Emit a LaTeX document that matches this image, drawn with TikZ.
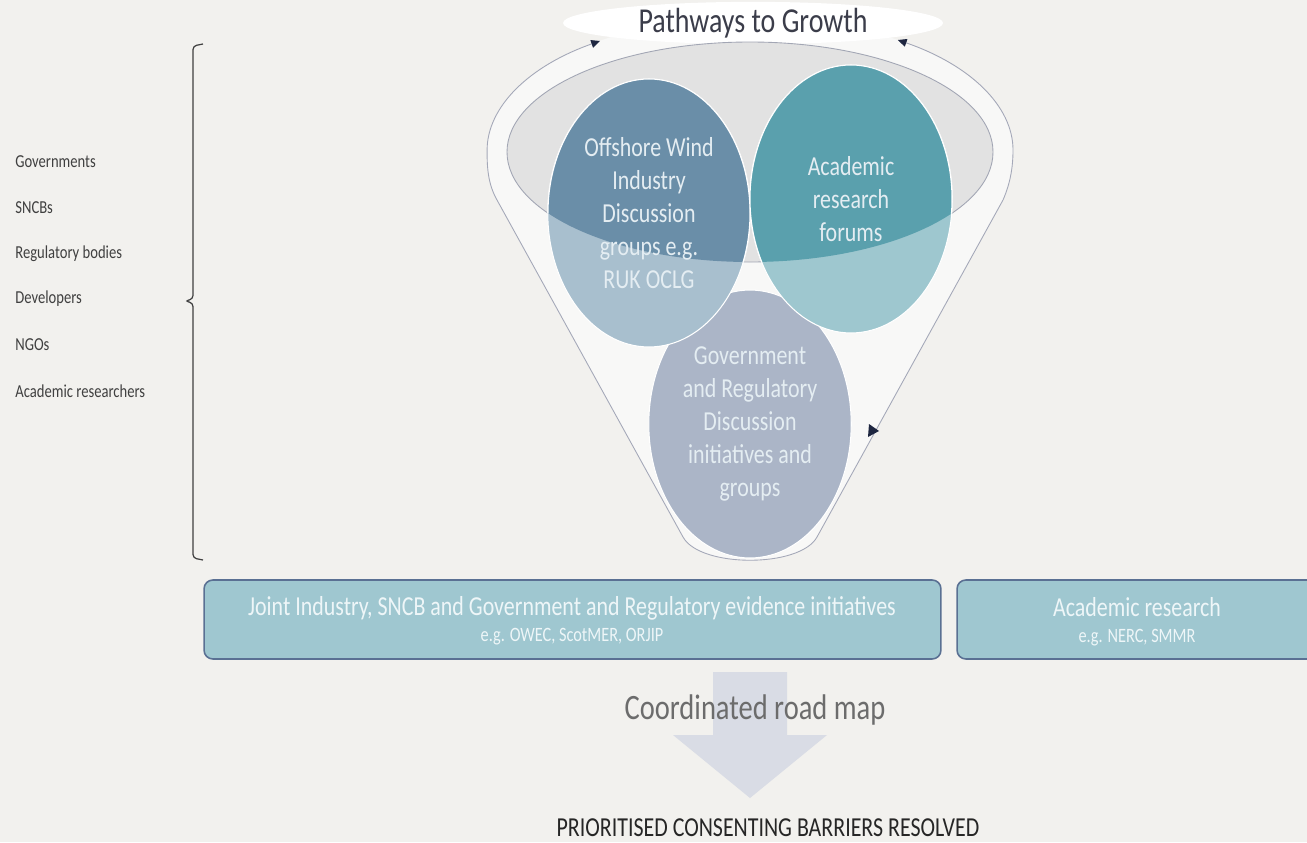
\documentclass[tikz,border=0pt]{standalone}
\usepackage{fontspec}
\setmainfont{Carlito}[FakeStretch=0.8]
\usetikzlibrary{shapes.geometric,arrows.meta,positioning}

\definecolor{paper}{HTML}{F2F1EE}
\definecolor{funnelfill}{HTML}{F8F8F7}
\definecolor{funneledge}{HTML}{A4A8B8}
\definecolor{rimgray}{HTML}{E2E2E2}
\definecolor{rimedge}{HTML}{A2A6B4}
\definecolor{tipdark}{HTML}{1E2640}
\definecolor{titletxt}{HTML}{3B3D4A}
\definecolor{indlight}{HTML}{A8BFCE}
\definecolor{inddark}{HTML}{6A8EA8}
\definecolor{acadlight}{HTML}{9EC7CF}
\definecolor{acaddark}{HTML}{5AA0AD}
\definecolor{govlight}{HTML}{ABB5C7}
\definecolor{bubbletxt}{HTML}{E4EDF2}
\definecolor{boxfill}{HTML}{9FC7D0}
\definecolor{boxedge}{HTML}{5A7093}
\definecolor{boxtxt}{HTML}{EEF6F8}
\definecolor{listgray}{HTML}{404040}
\definecolor{roadgray}{HTML}{6C6C6C}
\definecolor{roadarrow}{HTML}{D9DCE5}

\tikzset{
    member/.style={
    anchor=west,inner sep=0pt,text=listgray,font=\fontsize{10.4}{12}\selectfont
    },
    bubble/.style={
    ellipse,draw=white,line width=0.6pt,minimum width=4.05cm,minimum height=5.36cm,inner sep=0pt
    },
    bubbletext/.style={
    align=center,inner sep=0pt,text=bubbletxt,font=\fontsize{15.6}{18.8}\selectfont
    },
    evidence/.style={
    rectangle,rounded corners=5pt,draw=boxedge,line width=0.9pt,fill=boxfill,minimum height=1.58cm,inner sep=0pt
    },
    boxhead/.style={
    inner sep=0pt,text=boxtxt,font=\fontsize{15.6}{18}\selectfont
    },
    boxsub/.style={
    inner sep=0pt,text=boxtxt,font=\fontsize{11.6}{13}\selectfont
    },
}

\begin{document}
\begin{tikzpicture}[x=0.02cm, y=-0.02cm]
  \clip (0,0) rectangle (1307,842);
  \fill[paper] (0,0) rectangle (1307,842);

  % stakeholders and bracket
  \node[member] (gov) at (15,162) {Governments};
  \node[member] (sncb) at (15,208) {SNCBs};
  \node[member] (regbod) at (15,254) {Regulatory bodies};
  \node[member] (dev) at (15,299) {Developers};
  \node[member] (ngo) at (15,345) {NGOs};
  \node[member] (acad) at (15,391) {Academic researchers};
  \draw[listgray, line width=0.7pt, rounded corners=2pt]
    (203,44) -- (193,46) -- (193,299) -- (185,301) -- (193,303) -- (193,558) -- (203,560);

  % funnel body
  \fill[funnelfill] (487,150) arc[start angle=180, end angle=360, x radius=263, y radius=133]
    .. controls (1013,168) and (1010,184) .. (1003,200) -- (817,537)
    .. controls (800,568) and (700,568) .. (683,537) -- (497,200)
    .. controls (488,184) and (487,168) .. (487,150) -- cycle;
  \draw[funneledge, line width=0.5pt,
        {Triangle[length=5pt,width=4.5pt,color=tipdark]}-{Triangle[length=5pt,width=4.5pt,color=tipdark]}]
    (600,41) arc[start angle=235.2, end angle=180, x radius=263, y radius=133]
    .. controls (487,168) and (488,184) .. (497,200) -- (683,537)
    .. controls (700,568) and (800,568) .. (817,537) -- (1003,200)
    .. controls (1010,184) and (1013,168) .. (1013,150)
    arc[start angle=0, end angle=-55.8, x radius=263, y radius=133];
  \fill[tipdark] (869,424) -- (879,431) -- (868,437) -- cycle;

  % title on the rim
  \node[ellipse, fill=white, minimum width=7.6cm, minimum height=0.8cm, inner sep=0pt,
        text=titletxt, font=\fontsize{19.9}{22}\selectfont] (pathways) at (753,23) {Pathways to Growth};

  % rim
  \filldraw[fill=rimgray, draw=rimedge, line width=0.5pt] (750,152) ellipse[x radius=243, y radius=110];

  % discussion groups
  \node[bubble, fill=govlight] (govcirc) at (750,424) {};
  \node[bubble, fill=indlight] (indcirc) at (649,213) {};
  \node[bubble, fill=acadlight] (acadcirc) at (851,199) {};
  \begin{scope}
    \clip (750,152) ellipse[x radius=243, y radius=110];
    \filldraw[fill=inddark, draw=white, line width=0.6pt] (indcirc.center) ellipse[x radius=101, y radius=134];
    \filldraw[fill=acaddark, draw=white, line width=0.6pt] (acadcirc.center) ellipse[x radius=101, y radius=134];
  \end{scope}
  \node[bubbletext] (indtext) at (indcirc) {Offshore Wind\\Industry\\Discussion\\groups e.g.\\RUK OCLG};
  \node[bubbletext] (acadtext) at (acadcirc) {Academic\\research\\forums};
  \node[bubbletext] (govtext) at (govcirc) {Government\\and Regulatory\\Discussion\\initiatives and\\groups};

  % evidence initiatives
  \node[evidence, minimum width=14.74cm] (joint) at (572.5,619.5) {};
  \node[boxhead] (jointhead) at (572,608) {Joint Industry, SNCB and Government and Regulatory evidence initiatives};
  \node[boxsub] (jointsub) at (572,637) {e.g. OWEC, ScotMER, ORJIP};
  \node[evidence, minimum width=7.22cm] (research) at (1137.5,619.5) {};
  \node[boxhead] (researchhead) at (1137,607) {Academic research};
  \node[boxsub] (researchsub) at (1137,638) {e.g. NERC, SMMR};

  % road map arrow
  \fill[roadarrow] (713,672) -- (787,672) -- (787,735) -- (827,735) -- (750,798)
    -- (673,735) -- (713,735) -- cycle;
  \node[text=roadgray, font=\fontsize{20.3}{24}\selectfont, inner sep=0pt] (roadmap) at (755,710) {Coordinated road map};
  \node[text=black!85, font=\fontsize{15.6}{18}\selectfont, inner sep=0pt] (resolved) at (768,828) {PRIORITISED CONSENTING BARRIERS RESOLVED};
\end{tikzpicture}
\end{document}
